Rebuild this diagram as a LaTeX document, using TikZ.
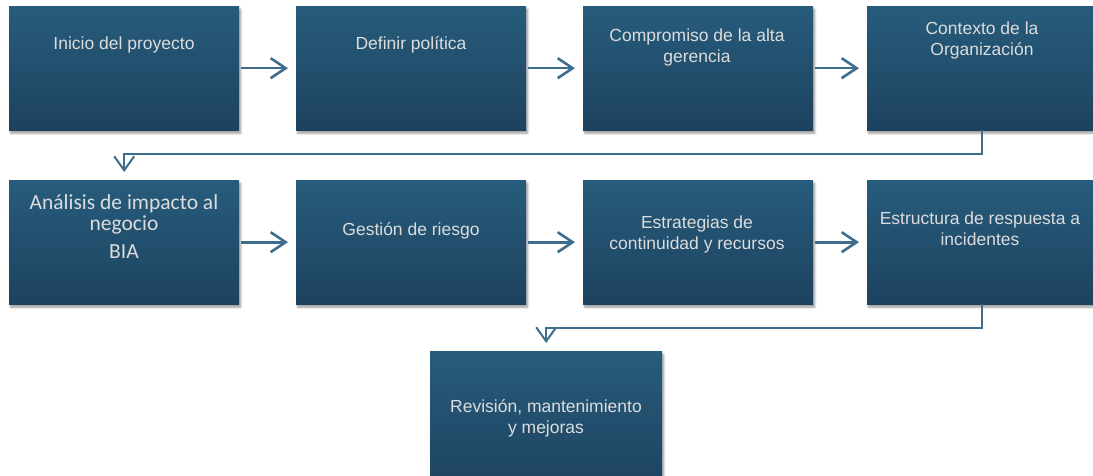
\documentclass[tikz,border=0pt]{standalone}
\usepackage{fontspec}
\setmainfont{Liberation Sans}
\newfontfamily\carlitofont{Carlito}
\usetikzlibrary{arrows.meta,shadows.blur}
\definecolor{boxtop}{HTML}{275C7C}
\definecolor{boxbot}{HTML}{1D425F}
\definecolor{arrcol}{HTML}{3F6D8D}
\definecolor{txtcol}{HTML}{DCDCDC}
\tikzset{
  box/.style={rectangle, anchor=north west, minimum width=230pt, minimum height=124pt,
    inner sep=0pt, draw=none, top color=boxtop, bottom color=boxbot,
    blur shadow={shadow xshift=1.5pt, shadow yshift=-3pt, shadow blur steps=6, shadow opacity=40}},
  lbl/.style={text=txtcol, align=center, inner sep=0pt, font=\fontsize{17.5}{21}\selectfont},
  harr/.style={draw=arrcol, line width=2.6pt, -{Straight Barb[length=15pt,width=20pt,line width=2.6pt]},
    shorten <=2pt, shorten >=8pt},
  varr/.style={draw=arrcol, line width=2pt, -{Straight Barb[length=14pt,width=20pt,line width=2pt]},
    shorten >=8pt},
}
\begin{document}
\begin{tikzpicture}[x=1pt,y=-1pt]
\useasboundingbox (0,0) rectangle (1093,476);
% row 1
\node[box] (b1) at (9,6) {};
\node[box] (b2) at (296,6) {};
\node[box] (b3) at (583,6) {};
\node[box] (b4) at (867,6) {};
% row 2
\node[box] (b5) at (9,180) {};
\node[box] (b6) at (296,180) {};
\node[box] (b7) at (583,180) {};
\node[box] (b8) at (867,180) {};
% row 3
\node[box, minimum width=232pt, minimum height=140pt] (b9) at (430,351) {};
% texts
\node[lbl] (t1) at (124,45) {Inicio del proyecto};
\node[lbl] (t2) at (411,45) {Definir política};
\node[lbl] (t3) at (697,47) {Compromiso de la alta\\gerencia};
\node[lbl] (t4) at (982,40) {Contexto de la\\Organización};
\node[lbl, font=\carlitofont\fontsize{21.5}{21}\selectfont] (t5) at (124,227) {Análisis de impacto al\\negocio\\[7pt]BIA};
\node[lbl] (t6) at (411,231) {Gestión de riesgo};
\node[lbl] (t7) at (697,234) {Estrategias de\\continuidad y recursos};
\node[lbl] (t8) at (980,229) {Estructura de respuesta a\\incidentes};
\node[lbl] (t9) at (546,418) {Revisión, mantenimiento\\y mejoras};
% connectors
\draw[harr] (b1.east) -- (b2.west);
\draw[harr] (b2.east) -- (b3.west);
\draw[harr] (b3.east) -- (b4.west);
\draw[harr] (b5.east) -- (b6.west);
\draw[harr] (b6.east) -- (b7.west);
\draw[harr] (b7.east) -- (b8.west);
\draw[varr] (b4.south) -- ++(0,24) -| (b5.north);
\draw[varr] (b8.south) -- ++(0,24) -| (b9.north);
\end{tikzpicture}
\end{document}
